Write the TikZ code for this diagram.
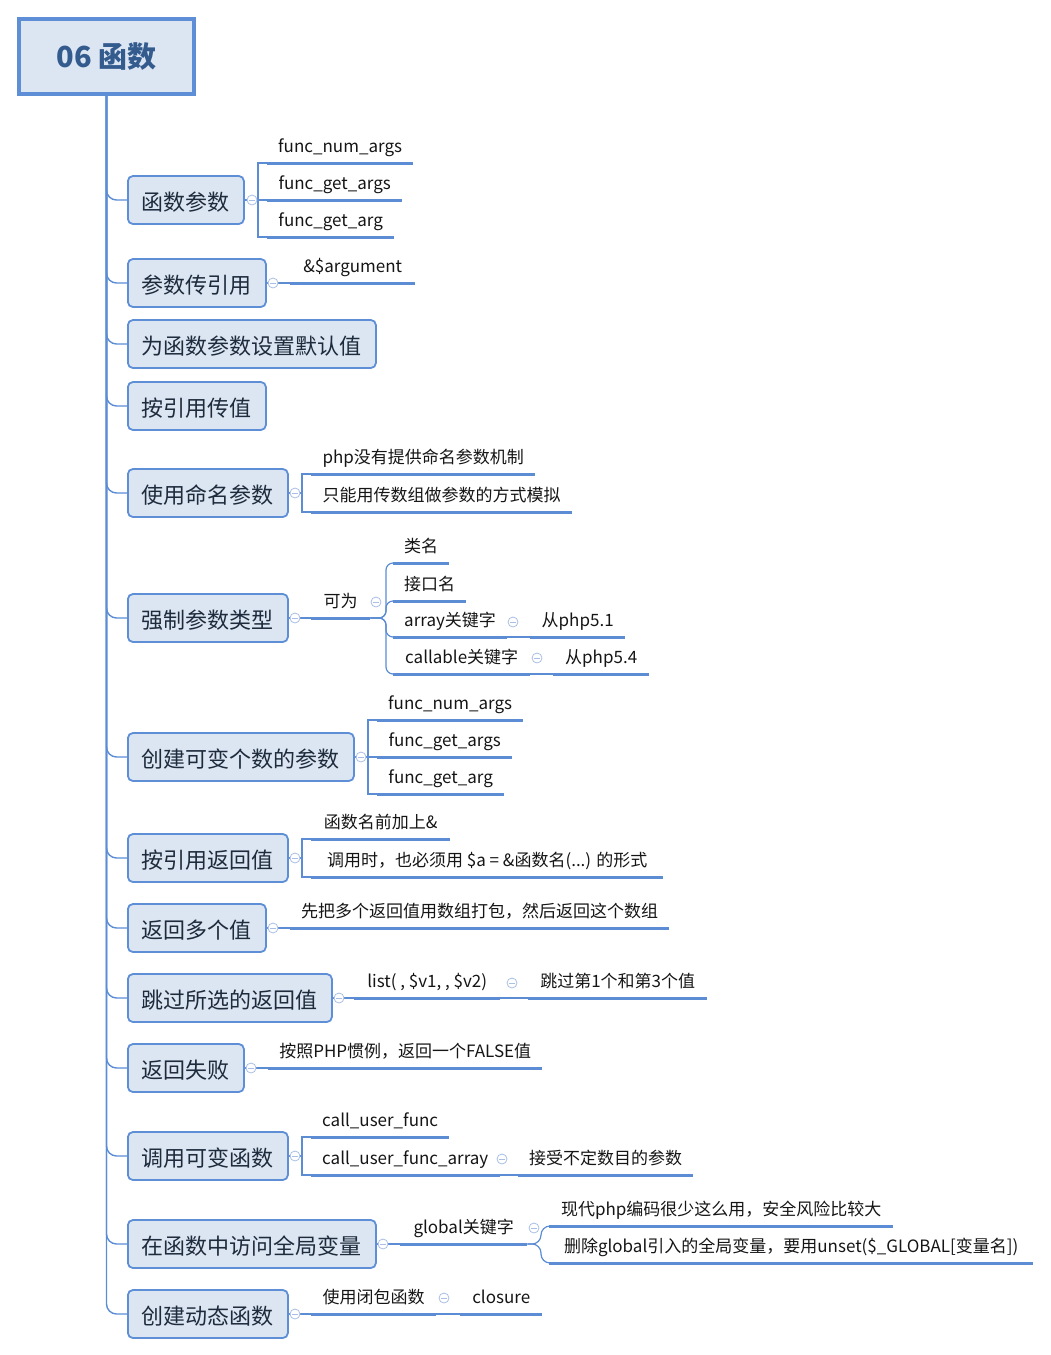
\documentclass[tikz,border=0pt]{standalone}
\usepackage{fontspec}
\setmainfont{Noto Sans CJK SC}
\definecolor{lineblue}{HTML}{5B8CD4}
\definecolor{boxline}{HTML}{5E8FD6}
\definecolor{boxfill}{HTML}{DCE6F2}
\definecolor{cmark}{HTML}{A9BFE6}
\definecolor{boxtext}{HTML}{1E2B3C}
\definecolor{roottext}{HTML}{335B8E}
\definecolor{leaftext}{HTML}{151515}
\begin{document}
\begin{tikzpicture}[x=1pt,y=-1pt,
  rootbox/.style={draw=boxline, fill=boxfill, line width=4, minimum width=175, minimum height=75,
    inner sep=0, text height=23, text depth=1, font=\fontsize{29}{33}\selectfont\bfseries, text=roottext},
  topic/.style={draw=boxline, fill=boxfill, line width=1.8, rounded corners=5, minimum height=48,
    inner xsep=14, inner ysep=0, text height=21, text depth=1, font=\fontsize{22}{26}\selectfont,
    text=boxtext, anchor=west},
  leaf/.style={anchor=south west, inner xsep=11, inner ysep=6, text height=14, text depth=4,
    font=\fontsize{17}{20}\selectfont, text=leaftext},
  uline/.style={draw=lineblue, line width=3},
  conn/.style={draw=lineblue, line width=1.2},
  trunk/.style={draw=lineblue, line width=1.4, rounded corners=10},
  coll/.style={circle, draw=cmark, fill=white, line width=0.8, minimum size=10, inner sep=0,
    path picture={\draw[cmark, line width=0.8] ([xshift=-2.8pt]path picture bounding box.center) -- ([xshift=2.8pt]path picture bounding box.center);}}
]
\useasboundingbox (0,0) rectangle (1051,1355);

% root
\node[rootbox] (root) at (106.5,56.5) {06 函数};

% level-1 topics
\node[topic] (b1) at (127,200) {函数参数};
\node[topic] (b2) at (127,283) {参数传引用};
\node[topic] (b3) at (127,344) {为函数参数设置默认值};
\node[topic] (b4) at (127,406) {按引用传值};
\node[topic] (b5) at (127,493) {使用命名参数};
\node[topic] (b6) at (127,618) {强制参数类型};
\node[topic] (b7) at (127,757) {创建可变个数的参数};
\node[topic] (b8) at (127,858) {按引用返回值};
\node[topic] (b9) at (127,928) {返回多个值};
\node[topic] (b10) at (127,998) {跳过所选的返回值};
\node[topic] (b11) at (127,1068) {返回失败};
\node[topic] (b12) at (127,1156) {调用可变函数};
\node[topic] (b13) at (127,1244) {在函数中访问全局变量};
\node[topic] (b14) at (127,1314) {创建动态函数};

% leaves
\node[leaf, minimum width=144] (l1a) at (267,163) {func\_num\_args};
\node[leaf, minimum width=135] (l1b) at (267,200) {func\_get\_args};
\node[leaf, minimum width=127] (l1c) at (267,237) {func\_get\_arg};
\node[leaf, minimum width=125] (l2) at (290,283) {\&\$argument};
\node[leaf, minimum width=224] (l5a) at (311,474) {php没有提供命名参数机制};
\node[leaf, minimum width=261] (l5b) at (311,512) {只能用传数组做参数的方式模拟};
\node[leaf, minimum width=59] (l6) at (311,618) {可为};
\node[leaf, minimum width=56] (l6a) at (393,563) {类名};
\node[leaf, minimum width=73] (l6b) at (393,601) {接口名};
\node[leaf, minimum width=112] (l6c) at (393,637) {array关键字};
\node[leaf, minimum width=137] (l6d) at (393,674) {callable关键字};
\node[leaf, minimum width=95] (l6e) at (530,637) {从php5.1};
\node[leaf, minimum width=96] (l6f) at (553,674) {从php5.4};
\node[leaf, minimum width=144] (l7a) at (377,720) {func\_num\_args};
\node[leaf, minimum width=135] (l7b) at (377,757) {func\_get\_args};
\node[leaf, minimum width=127] (l7c) at (377,794) {func\_get\_arg};
\node[leaf, minimum width=139] (l8a) at (311,839) {函数名前加上\&};
\node[leaf, minimum width=352] (l8b) at (311,877) {调用时，也必须用 \$a = \&函数名(...) 的形式};
\node[leaf, minimum width=378] (l9) at (290,928) {先把多个返回值用数组打包，然后返回这个数组};
\node[leaf, minimum width=146] (l10) at (354,998) {list( , \$v1, , \$v2)};
\node[leaf, minimum width=179] (l10b) at (528,998) {跳过第1个和第3个值};
\node[leaf, minimum width=274] (l11) at (268,1068) {按照PHP惯例，返回一个FALSE值};
\node[leaf, minimum width=136] (l12a) at (311,1137) {call\_user\_func};
\node[leaf, minimum width=180] (l12b) at (311,1175) {call\_user\_func\_array};
\node[leaf, minimum width=175] (l12c) at (518,1175) {接受不定数目的参数};
\node[leaf, minimum width=127] (l13) at (400,1244) {global关键字};
\node[leaf, minimum width=344] (l13a) at (549,1226) {现代php编码很少这么用，安全风险比较大};
\node[leaf, minimum width=484] (l13b) at (549,1263) {删除global引入的全局变量，要用unset(\$\_GLOBAL[变量名])};
\node[leaf, minimum width=125] (l14) at (311,1314) {使用闭包函数};
\node[leaf, minimum width=82] (l14b) at (460,1314) {closure};

% underlines
\foreach \n in {l1a,l1b,l1c,l2,l5a,l5b,l6,l6a,l6b,l6c,l6d,l6e,l6f,l7a,l7b,l7c,l8a,l8b,l9,l10,l10b,l11,l12a,l12b,l12c,l13,l13a,l13b,l14,l14b}
  \draw[uline] (\n.south west) -- (\n.south east);

% trunk
\foreach \b in {b1,b2,b3,b4,b5,b6,b7,b8,b9,b10,b11,b12,b13,b14}
  \draw[trunk] (root.south) |- (\b.west);

% junctions
\coordinate (j1) at (258,200);
\coordinate (j5) at (302,493);
\coordinate (j6) at (386,618);
\coordinate (j7) at (368,757);
\coordinate (j8) at (302,858);
\coordinate (j12) at (302,1156);
\coordinate (j13) at (549,1244);

% connectors
\draw[conn] (b1.east) -- (j1);
\foreach \l in {l1a,l1b,l1c} \draw[conn] (j1) |- (\l.south west);
\draw[conn] (b2.east) -- (l2.south west);
\draw[conn] (b5.east) -- (j5);
\foreach \l in {l5a,l5b} \draw[conn] (j5) |- (\l.south west);
\draw[conn] (b6.east) -- (l6.south west);
\foreach \l in {l6a,l6b,l6c,l6d} \draw[conn, rounded corners=7] (l6.south east) -- (j6) |- ([xshift=1pt]\l.south west);
\draw[conn] (l6c.south east) -- (l6e.south west);
\draw[conn] (l6d.south east) -- (l6f.south west);
\draw[conn] (b7.east) -- (j7);
\foreach \l in {l7a,l7b,l7c} \draw[conn] (j7) |- (\l.south west);
\draw[conn] (b8.east) -- (j8);
\foreach \l in {l8a,l8b} \draw[conn] (j8) |- (\l.south west);
\draw[conn] (b9.east) -- (l9.south west);
\draw[conn] (b10.east) -- (l10.south west);
\draw[conn] (l10.south east) -- (l10b.south west);
\draw[conn] (b11.east) -- (l11.south west);
\draw[conn] (b12.east) -- (j12);
\foreach \l in {l12a,l12b} \draw[conn] (j12) |- (\l.south west);
\draw[conn] (l12b.south east) -- (l12c.south west);
\draw[conn] (b13.east) -- (l13.south west);
\foreach \l in {l13a,l13b} \draw[conn, rounded corners=9] (l13.south east) -- ([xshift=-8pt]j13) |- ([xshift=2pt]\l.south west);
\draw[conn] (b14.east) -- (l14.south west);
\draw[conn] (l14.south east) -- (l14b.south west);

% collapse markers
\node[coll] (c1) at (252,200) {};
\node[coll] (c2) at (273,283) {};
\node[coll] (c5) at (295,493) {};
\node[coll] (c6) at (295,618) {};
\node[coll] (c6b) at (376,602) {};
\node[coll] (c6c) at (513,622) {};
\node[coll] (c6d) at (537,658) {};
\node[coll] (c7) at (361,757) {};
\node[coll] (c8) at (295,858) {};
\node[coll] (c9) at (273,928) {};
\node[coll] (c10) at (339,998) {};
\node[coll] (c10b) at (512,983) {};
\node[coll] (c11) at (251,1068) {};
\node[coll] (c12) at (295,1156) {};
\node[coll] (c12b) at (502,1159) {};
\node[coll] (c13) at (383,1244) {};
\node[coll] (c13b) at (534,1228) {};
\node[coll] (c14) at (295,1314) {};
\node[coll] (c14b) at (444,1298) {};
\end{tikzpicture}
\end{document}
